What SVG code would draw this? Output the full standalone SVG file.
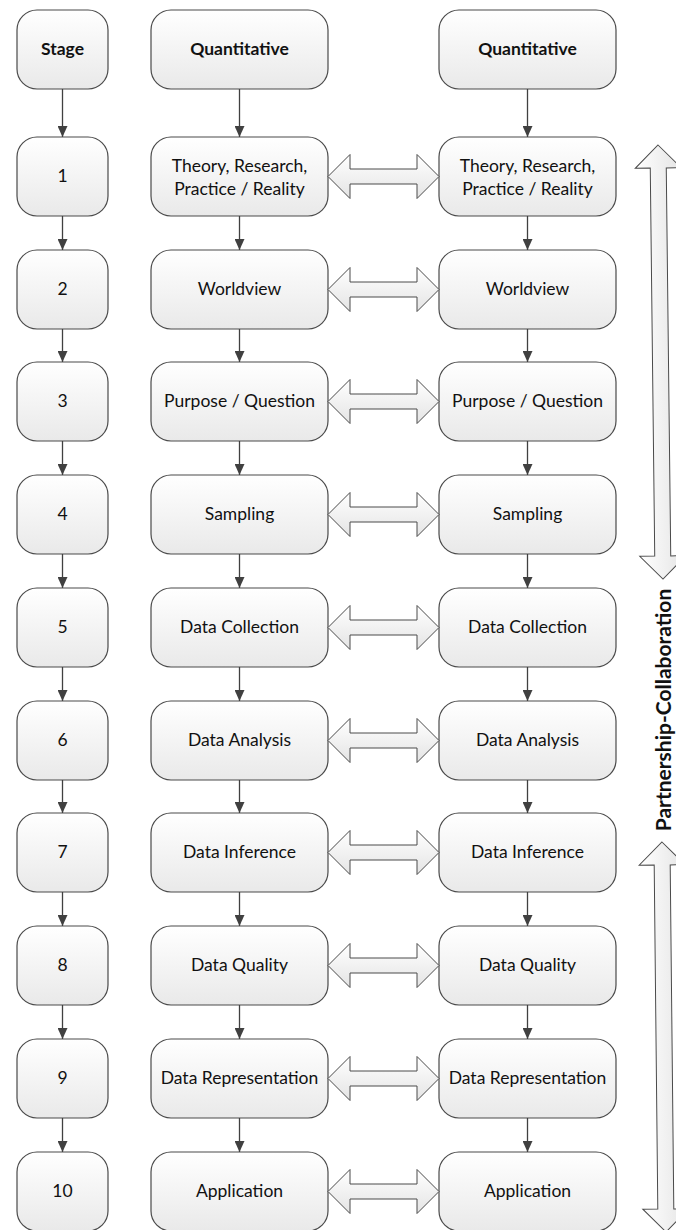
<svg xmlns="http://www.w3.org/2000/svg" width="676" height="1230" viewBox="0 0 676 1230">
<defs>
  <linearGradient id="gBox" x1="0" y1="0" x2="0" y2="1">
    <stop offset="0" stop-color="#ffffff"/>
    <stop offset="1" stop-color="#e9e9e9"/>
  </linearGradient>
  <linearGradient id="gArrH" x1="0" y1="0" x2="0" y2="1">
    <stop offset="0" stop-color="#ffffff"/>
    <stop offset="1" stop-color="#e4e4e4"/>
  </linearGradient>
  <linearGradient id="gArrV" x1="0" y1="0" x2="1" y2="0">
    <stop offset="0" stop-color="#ffffff"/>
    <stop offset="1" stop-color="#e4e4e4"/>
  </linearGradient>
  <marker id="ah" markerUnits="userSpaceOnUse" markerWidth="11" markerHeight="10" refX="11" refY="5" orient="auto">
    <path d="M0,0 L11,5 L0,10 z" fill="#404040"/>
  </marker>
</defs>
<style>
  .box { fill: url(#gBox); stroke: #4a4a4a; stroke-width: 1.2; }
  .t { font-family: "Lato", "Liberation Sans", sans-serif; font-size: 17.5px; fill: #111111; text-anchor: middle; }
  .b { font-weight: bold; }
  .conn { stroke: #404040; stroke-width: 1.3; fill: none; marker-end: url(#ah); }
  .dbl { fill: url(#gArrH); stroke: #4a4a4a; stroke-width: 1; }
  .big { fill: url(#gArrV); stroke: #4a4a4a; stroke-width: 1; }
  .side { font-family: "Lato", "Liberation Sans", sans-serif; font-size: 21px; font-weight: bold; fill: #111111; text-anchor: middle; }
</style>

<!-- header nodes -->
<g id="stage-header"><rect class="box" x="17" y="10" width="91" height="79" rx="20"/><text class="t b" x="62.5" y="55">Stage</text></g>
<g id="quant-header-left"><rect class="box" x="151" y="10" width="177" height="79" rx="20"/><text class="t b" x="239.5" y="55">Quantitative</text></g>
<g id="quant-header-right"><rect class="box" x="439" y="10" width="177" height="79" rx="20"/><text class="t b" x="527.5" y="55">Quantitative</text></g>

<!-- row 1 -->
<g id="stage-1"><rect class="box" x="17" y="137" width="91" height="79" rx="20"/><text class="t" x="62.5" y="182">1</text></g>
<g id="left-1"><rect class="box" x="151" y="137" width="177" height="79" rx="20"/><text class="t" x="239.5" y="172">Theory, Research,</text><text class="t" x="239.5" y="194.5">Practice / Reality</text></g>
<g id="right-1"><rect class="box" x="439" y="137" width="177" height="79" rx="20"/><text class="t" x="527.5" y="172">Theory, Research,</text><text class="t" x="527.5" y="194.5">Practice / Reality</text></g>

<!-- row 2 -->
<g id="stage-2"><rect class="box" x="17" y="250" width="91" height="79" rx="20"/><text class="t" x="62.5" y="295">2</text></g>
<g id="left-2"><rect class="box" x="151" y="250" width="177" height="79" rx="20"/><text class="t" x="239.5" y="295">Worldview</text></g>
<g id="right-2"><rect class="box" x="439" y="250" width="177" height="79" rx="20"/><text class="t" x="527.5" y="295">Worldview</text></g>

<!-- row 3 -->
<g id="stage-3"><rect class="box" x="17" y="362" width="91" height="79" rx="20"/><text class="t" x="62.5" y="407">3</text></g>
<g id="left-3"><rect class="box" x="151" y="362" width="177" height="79" rx="20"/><text class="t" x="239.5" y="407">Purpose / Question</text></g>
<g id="right-3"><rect class="box" x="439" y="362" width="177" height="79" rx="20"/><text class="t" x="527.5" y="407">Purpose / Question</text></g>

<!-- row 4 -->
<g id="stage-4"><rect class="box" x="17" y="475" width="91" height="79" rx="20"/><text class="t" x="62.5" y="520">4</text></g>
<g id="left-4"><rect class="box" x="151" y="475" width="177" height="79" rx="20"/><text class="t" x="239.5" y="520">Sampling</text></g>
<g id="right-4"><rect class="box" x="439" y="475" width="177" height="79" rx="20"/><text class="t" x="527.5" y="520">Sampling</text></g>

<!-- row 5 -->
<g id="stage-5"><rect class="box" x="17" y="588" width="91" height="79" rx="20"/><text class="t" x="62.5" y="633">5</text></g>
<g id="left-5"><rect class="box" x="151" y="588" width="177" height="79" rx="20"/><text class="t" x="239.5" y="633">Data Collection</text></g>
<g id="right-5"><rect class="box" x="439" y="588" width="177" height="79" rx="20"/><text class="t" x="527.5" y="633">Data Collection</text></g>

<!-- row 6 -->
<g id="stage-6"><rect class="box" x="17" y="701" width="91" height="79" rx="20"/><text class="t" x="62.5" y="746">6</text></g>
<g id="left-6"><rect class="box" x="151" y="701" width="177" height="79" rx="20"/><text class="t" x="239.5" y="746">Data Analysis</text></g>
<g id="right-6"><rect class="box" x="439" y="701" width="177" height="79" rx="20"/><text class="t" x="527.5" y="746">Data Analysis</text></g>

<!-- row 7 -->
<g id="stage-7"><rect class="box" x="17" y="813" width="91" height="79" rx="20"/><text class="t" x="62.5" y="858">7</text></g>
<g id="left-7"><rect class="box" x="151" y="813" width="177" height="79" rx="20"/><text class="t" x="239.5" y="858">Data Inference</text></g>
<g id="right-7"><rect class="box" x="439" y="813" width="177" height="79" rx="20"/><text class="t" x="527.5" y="858">Data Inference</text></g>

<!-- row 8 -->
<g id="stage-8"><rect class="box" x="17" y="926" width="91" height="79" rx="20"/><text class="t" x="62.5" y="971">8</text></g>
<g id="left-8"><rect class="box" x="151" y="926" width="177" height="79" rx="20"/><text class="t" x="239.5" y="971">Data Quality</text></g>
<g id="right-8"><rect class="box" x="439" y="926" width="177" height="79" rx="20"/><text class="t" x="527.5" y="971">Data Quality</text></g>

<!-- row 9 -->
<g id="stage-9"><rect class="box" x="17" y="1039" width="91" height="79" rx="20"/><text class="t" x="62.5" y="1084">9</text></g>
<g id="left-9"><rect class="box" x="151" y="1039" width="177" height="79" rx="20"/><text class="t" x="239.5" y="1084">Data Representation</text></g>
<g id="right-9"><rect class="box" x="439" y="1039" width="177" height="79" rx="20"/><text class="t" x="527.5" y="1084">Data Representation</text></g>

<!-- row 10 -->
<g id="stage-10"><rect class="box" x="17" y="1152" width="91" height="79" rx="20"/><text class="t" x="62.5" y="1197">10</text></g>
<g id="left-10"><rect class="box" x="151" y="1152" width="177" height="79" rx="20"/><text class="t" x="239.5" y="1197">Application</text></g>
<g id="right-10"><rect class="box" x="439" y="1152" width="177" height="79" rx="20"/><text class="t" x="527.5" y="1197">Application</text></g>

<!-- connectors -->
<g id="connectors">
  <!-- stage column -->
  <path class="conn" d="M62.5,89 V137"/>
  <path class="conn" d="M62.5,216 V250"/>
  <path class="conn" d="M62.5,329 V362"/>
  <path class="conn" d="M62.5,441 V475"/>
  <path class="conn" d="M62.5,554 V588"/>
  <path class="conn" d="M62.5,667 V701"/>
  <path class="conn" d="M62.5,780 V813"/>
  <path class="conn" d="M62.5,892 V926"/>
  <path class="conn" d="M62.5,1005 V1039"/>
  <path class="conn" d="M62.5,1118 V1152"/>
  <!-- left quantitative column -->
  <path class="conn" d="M239.5,89 V137"/>
  <path class="conn" d="M239.5,216 V250"/>
  <path class="conn" d="M239.5,329 V362"/>
  <path class="conn" d="M239.5,441 V475"/>
  <path class="conn" d="M239.5,554 V588"/>
  <path class="conn" d="M239.5,667 V701"/>
  <path class="conn" d="M239.5,780 V813"/>
  <path class="conn" d="M239.5,892 V926"/>
  <path class="conn" d="M239.5,1005 V1039"/>
  <path class="conn" d="M239.5,1118 V1152"/>
  <!-- right quantitative column -->
  <path class="conn" d="M527.5,89 V137"/>
  <path class="conn" d="M527.5,216 V250"/>
  <path class="conn" d="M527.5,329 V362"/>
  <path class="conn" d="M527.5,441 V475"/>
  <path class="conn" d="M527.5,554 V588"/>
  <path class="conn" d="M527.5,667 V701"/>
  <path class="conn" d="M527.5,780 V813"/>
  <path class="conn" d="M527.5,892 V926"/>
  <path class="conn" d="M527.5,1005 V1039"/>
  <path class="conn" d="M527.5,1118 V1152"/>
  <!-- horizontal double block arrows -->
  <path class="dbl" transform="translate(0,176.5)" d="M328,0 L350,-22 L350,-7.5 L417,-7.5 L417,-22 L439,0 L417,22 L417,7.5 L350,7.5 L350,22 Z"/>
  <path class="dbl" transform="translate(0,289.5)" d="M328,0 L350,-22 L350,-7.5 L417,-7.5 L417,-22 L439,0 L417,22 L417,7.5 L350,7.5 L350,22 Z"/>
  <path class="dbl" transform="translate(0,401.5)" d="M328,0 L350,-22 L350,-7.5 L417,-7.5 L417,-22 L439,0 L417,22 L417,7.5 L350,7.5 L350,22 Z"/>
  <path class="dbl" transform="translate(0,514.5)" d="M328,0 L350,-22 L350,-7.5 L417,-7.5 L417,-22 L439,0 L417,22 L417,7.5 L350,7.5 L350,22 Z"/>
  <path class="dbl" transform="translate(0,627.5)" d="M328,0 L350,-22 L350,-7.5 L417,-7.5 L417,-22 L439,0 L417,22 L417,7.5 L350,7.5 L350,22 Z"/>
  <path class="dbl" transform="translate(0,740.5)" d="M328,0 L350,-22 L350,-7.5 L417,-7.5 L417,-22 L439,0 L417,22 L417,7.5 L350,7.5 L350,22 Z"/>
  <path class="dbl" transform="translate(0,852.5)" d="M328,0 L350,-22 L350,-7.5 L417,-7.5 L417,-22 L439,0 L417,22 L417,7.5 L350,7.5 L350,22 Z"/>
  <path class="dbl" transform="translate(0,965.5)" d="M328,0 L350,-22 L350,-7.5 L417,-7.5 L417,-22 L439,0 L417,22 L417,7.5 L350,7.5 L350,22 Z"/>
  <path class="dbl" transform="translate(0,1078.5)" d="M328,0 L350,-22 L350,-7.5 L417,-7.5 L417,-22 L439,0 L417,22 L417,7.5 L350,7.5 L350,22 Z"/>
  <path class="dbl" transform="translate(0,1191.5)" d="M328,0 L350,-22 L350,-7.5 L417,-7.5 L417,-22 L439,0 L417,22 L417,7.5 L350,7.5 L350,22 Z"/>
</g>

<!-- partnership-collaboration side arrows and label -->
<g id="partnership">
  <path class="big" transform="rotate(-0.66 660.5 362)" d="M660.5,145 L683.5,168 L668.5,168 L668.5,556 L683.5,556 L660.5,579 L637.5,556 L652.5,556 L652.5,168 L637.5,168 Z"/>
  <path class="big" transform="rotate(-0.6 664 1037)" d="M664,842 L687,865 L672,865 L672,1209 L687,1209 L664,1232 L641,1209 L656,1209 L656,865 L641,865 Z"/>
  <text class="side" transform="translate(671,710) rotate(-90)" x="0" y="0">Partnership-Collaboration</text>
</g>
</svg>
